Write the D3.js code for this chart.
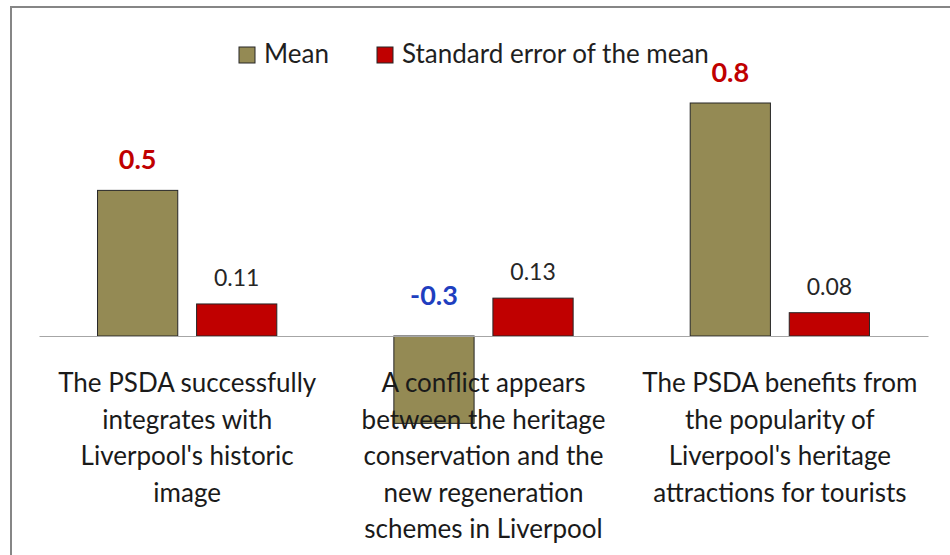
<!DOCTYPE html>
<html>
<head>
<meta charset="utf-8">
<script src="https://cdn.jsdelivr.net/npm/d3@7"></script>
<style>
  html, body { margin: 0; padding: 0; background: #fff; }
  svg { display: block; font-family: Lato, "Open Sans", sans-serif; }
</style>
</head>
<body>
<svg id="chart" width="950" height="555"></svg>
<script>
// Statement categories, each label split into its display lines
const categories = [
  "The PSDA successfully integrates with Liverpool's historic image",
  "A conflict appears between the heritage conservation and the new regeneration schemes in Liverpool",
  "The PSDA benefits from the popularity of Liverpool's heritage attractions for tourists"
];
const categoryLines = [
  ["The PSDA successfully", "integrates with", "Liverpool's historic", "image"],
  ["A conflict appears", "between the heritage", "conservation and the", "new regeneration", "schemes in Liverpool"],
  ["The PSDA benefits from", "the popularity of", "Liverpool's heritage", "attractions for tourists"]
];
const seriesNames = ["Mean", "Standard error of the mean"];
const meanValues = [0.5, -0.3, 0.8];
const seValues = [0.11, 0.13, 0.08];

const colors = { "Mean": "#948A54", "Standard error of the mean": "#C00000" };

// plain hyphen for negatives, as in the source spreadsheet
const fmt1 = v => d3.format(".1f")(v).replace("\u2212", "-");
const fmt2 = v => d3.format(".2f")(v).replace("\u2212", "-");

const svg = d3.select("#chart");

// outer chart frame
svg.append("rect")
  .attr("x", 11).attr("y", 7)
  .attr("width", 980).attr("height", 580)
  .attr("fill", "none")
  .attr("stroke", "#868686")
  .attr("stroke-width", 2);

const plot = { left: 39, right: 928 };

const x0 = d3.scaleBand()
  .domain(categories)
  .range([plot.left, plot.right])
  .paddingInner(0.395)
  .paddingOuter(0.1975);

const x1 = d3.scaleBand()
  .domain(seriesNames)
  .range([0, x0.bandwidth()])
  .paddingInner(0.19);

const y = d3.scaleLinear()
  .domain([-0.4, 0.8])
  .range([452.5, 103]);

const rows = categories.map((c, i) => ({
  category: c,
  values: [
    { series: "Mean", value: meanValues[i] },
    { series: "Standard error of the mean", value: seValues[i] }
  ]
}));

// bars
const groups = svg.append("g").selectAll("g")
  .data(rows)
  .join("g")
  .attr("transform", d => `translate(${x0(d.category)},0)`);

groups.selectAll("rect")
  .data(d => d.values)
  .join("rect")
  .attr("x", d => x1(d.series))
  .attr("width", x1.bandwidth())
  .attr("y", d => y(Math.max(0, d.value)))
  .attr("height", d => Math.abs(y(d.value) - y(0)))
  .attr("fill", d => colors[d.series])
  .attr("stroke", "#262626")
  .attr("stroke-width", 1);

// value labels
groups.selectAll("text.value")
  .data(d => d.values)
  .join("text")
  .attr("class", "value")
  .attr("x", d => x1(d.series) + x1.bandwidth() / 2)
  .attr("y", d => {
    if (d.series === "Mean") return d.value >= 0 ? y(d.value) - 21 : y(0) - 31;
    return y(d.value) - 18;
  })
  .attr("text-anchor", "middle")
  .attr("font-size", d => d.series === "Mean" ? 27 : 23)
  .attr("font-weight", d => d.series === "Mean" ? "bold" : "normal")
  .attr("fill", d => d.series === "Mean" ? (d.value >= 0 ? "#C00000" : "#1F3FBF") : "#262626")
  .text(d => d.series === "Mean" ? fmt1(d.value) : fmt2(d.value));

// category axis on the zero line
const xAxis = d3.axisBottom(x0).tickSize(0).tickPadding(0);
const axisG = svg.append("g")
  .attr("transform", `translate(0,${y(0)})`)
  .call(xAxis);
axisG.select(".domain").attr("stroke", "#A6A6A6").attr("stroke-width", 1.2);
axisG.selectAll(".tick text").each(function(d, i) {
  const t = d3.select(this);
  t.text(null)
    .attr("y", 0).attr("dy", null)
    .attr("fill", "#1a1a1a")
    .attr("font-size", 26)
    .attr("font-family", "Lato, 'Open Sans', sans-serif");
  categoryLines[i].forEach((line, k) => {
    t.append("tspan")
      .attr("x", 0)
      .attr("y", 56 + k * 36.5)
      .text(line);
  });
});

// legend
const legendItems = [
  { name: "Mean", x: 239 },
  { name: "Standard error of the mean", x: 377 }
];
const legend = svg.append("g").selectAll("g")
  .data(legendItems)
  .join("g")
  .attr("transform", d => `translate(${d.x},47)`);
legend.append("rect")
  .attr("width", 16).attr("height", 16)
  .attr("fill", d => colors[d.name])
  .attr("stroke", "#262626").attr("stroke-width", 1);
legend.append("text")
  .attr("x", 25).attr("y", 16)
  .attr("font-size", 26)
  .attr("fill", "#1f1f1f")
  .text(d => d.name);
</script>
</body>
</html>
